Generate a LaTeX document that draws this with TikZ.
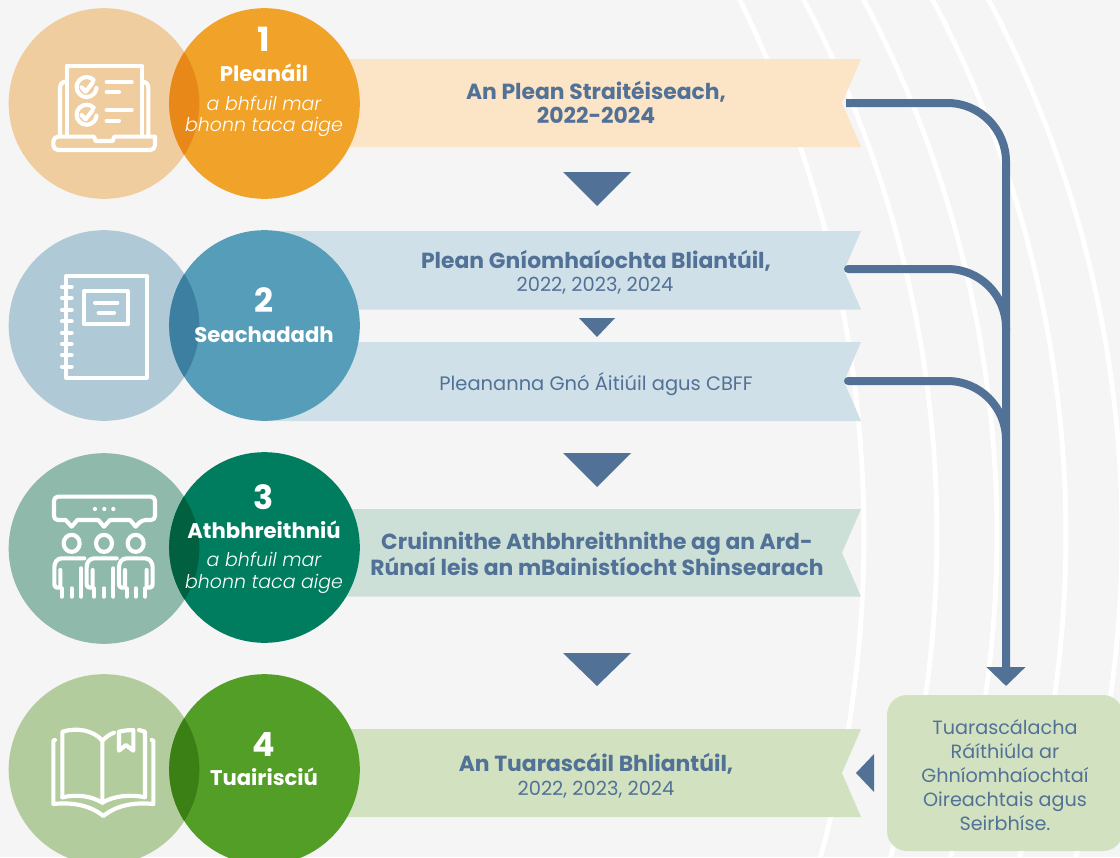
\documentclass[tikz,border=0pt]{standalone}
\usepackage{fontspec}
\setmainfont{Poppins}
\newfontfamily\lightit{Poppins Light Italic}
\usetikzlibrary{arrows.meta}
\definecolor{pagebg}{HTML}{F5F5F5}
\definecolor{ink}{HTML}{527196}
\definecolor{oa}{HTML}{F0CD9F}\definecolor{ob}{HTML}{F0A229}\definecolor{oc}{HTML}{E88819}\definecolor{od}{HTML}{FCE4C6}
\definecolor{ba}{HTML}{B0C9D6}\definecolor{bb}{HTML}{559DB8}\definecolor{bc}{HTML}{3D7FA0}\definecolor{bd}{HTML}{CFE0E8}
\definecolor{ga}{HTML}{8FB9AB}\definecolor{gb}{HTML}{007D5E}\definecolor{gc}{HTML}{006040}\definecolor{gd}{HTML}{CCE0D8}
\definecolor{la}{HTML}{B3CC9D}\definecolor{lb}{HTML}{529E27}\definecolor{lc}{HTML}{3A8015}\definecolor{ld}{HTML}{D2E2C0}
\tikzset{
  disc/.style={circle,minimum size=143pt,inner sep=0pt,outer sep=0pt},
  arcline/.style={draw=white,line width=3.6pt},
  conn/.style={draw=ink,line width=6pt,line cap=round},
  connarrow/.style={draw=ink,line width=6pt,-{Triangle[length=14.25pt,width=28.5pt]}},
  tri/.style={fill=ink},
  ic/.style={draw=white,line width=3.1pt,line cap=round,line join=round,x=0.25pt,y=-0.25pt},
  num/.style={text=white,font=\bfseries\fontsize{25}{25}\selectfont,inner sep=0pt},
  head/.style={text=white,font=\bfseries\fontsize{15.9}{18}\selectfont,inner sep=0pt},
  sub/.style={text=white,align=center,font=\lightit\fontsize{14.2}{16}\selectfont,inner sep=0pt},
  boldtxt/.style={text=ink,align=center,font=\bfseries\fontsize{16.4}{18}\selectfont,inner sep=0pt},
  regtxt/.style={text=ink,align=center,font=\fontsize{14.6}{18}\selectfont,inner sep=0pt},
  boxtxt/.style={draw=none,fill=ld,rounded corners=15pt,minimum width=177pt,minimum height=117pt,text=ink,align=center,font=\fontsize{14.4}{18}\selectfont,inner sep=0pt},
}
\newcommand{\pair}[5]{%
  \node[disc,fill=#3] (#1L) at (104,#2) {};
  \node[disc,fill=#4] (#1R) at (264.5,#2) {};
  \begin{scope}
    \clip (104,#2) circle[radius=71.5pt];
    \fill[#5] (264.5,#2) circle[radius=71.5pt];
  \end{scope}
}
\newcommand{\banner}[5]{% colour, left, top, bottom, notch x
  \fill[#1] (#2,#3) -- (861,#3) -- (#5,{(#3+#4)/2}) -- (861,#4) -- (#2,#4) -- cycle;
}
\begin{document}
\begin{tikzpicture}[x=0.75pt,y=-0.75pt]
\useasboundingbox (0,0) rectangle (1120,857);
\clip (0,0) rectangle (1120,857);
\fill[pagebg] (0,0) rectangle (1120,857);
% background arcs
\foreach \m/\r in {864/1216,937/1142,997/1142,1066/1142,1122/1142}{
  \draw[arcline] plot[domain=-32:32,samples=50] ({\m-\r+\r*cos(\x)},{535+\r*sin(\x)});
}
% banners
\banner{od}{300}{59}{147}{842}
\banner{bd}{260}{231}{309.5}{844}
\banner{bd}{260}{342}{421}{844}
\banner{gd}{300}{509}{596.5}{842}
\banner{ld}{300}{729}{817}{842}
% circles
\pair{a}{103.5}{oa}{ob}{oc}
\pair{b}{325.5}{ba}{bb}{bc}
\node[disc,fill=ga] (cL) at (104,548.5) {};
\node[disc,fill=gb] (cR) at (264.5,547.5) {};
\begin{scope}
  \clip (104,548.5) circle[radius=71.5pt];
  \fill[gc] (264.5,547.5) circle[radius=71.5pt];
\end{scope}
\pair{d}{769.5}{la}{lb}{lc}
% circle texts
\node[num] (n1) at (264,39.5) {1};
\node[head] (h1) at (264,72.5) {Pleanáil};
\node[sub] (s1) at (264,116.5) {a bhfuil mar\\bhonn taca aige};
\node[num] (n2) at (264,300.5) {2};
\node[head] (h2) at (264,335) {Seachadadh};
\node[num] (n3) at (264,497.5) {3};
\node[head] (h3) at (264,530) {Athbhreithniú};
\node[sub] (s3) at (264,573) {a bhfuil mar\\bhonn taca aige};
\node[num] (n4) at (264,744.5) {4};
\node[head] (h4) at (264,777) {Tuairisciú};
% banner texts
\node[boldtxt] (t1) at (596,102) {An Plean Straitéiseach,\\2022-2024};
\node[boldtxt] (t2) at (596,261) {Plean Gníomhaíochta Bliantúil,};
\node[regtxt] (t2b) at (595,286) {2022, 2023, 2024};
\node[regtxt] (t3) at (596,384) {Pleananna Gnó Áitiúil agus CBFF};
\node[boldtxt] (t4) at (597,554) {Cruinnithe Athbhreithnithe ag an Ard-\\Rúnaí leis an mBainistíocht Shinsearach};
\node[boldtxt] (t5) at (596,764) {An Tuarascáil Bhliantúil,};
\node[regtxt] (t5b) at (596,790) {2022, 2023, 2024};
% down triangles
\fill[tri] (563,172) -- (631,172) -- (597,206) -- cycle;
\fill[tri] (579,318) -- (615,318) -- (597,337) -- cycle;
\fill[tri] (563,453) -- (631,453) -- (597,487) -- cycle;
\fill[tri] (563,653) -- (631,653) -- (597,686) -- cycle;
\fill[tri] (856,773) -- (874,754) -- (874,792) -- cycle;
% report box
\node[boxtxt] (box) at (1005,773) {\rule{0pt}{14pt}Tuarascálacha\\Ráíthiúla ar\\Ghníomhaíochtaí\\Oireachtais agus\\Seirbhíse.};
% connectors
\coordinate (p1) at (846,103);
\coordinate (p2) at (848,269);
\coordinate (p3) at (848,381);
\coordinate (bus) at (1006,686);
\coordinate (m2) at (1006,330);
\coordinate (m3) at (1006,440);
\draw[connarrow,rounded corners=44pt] (p1) -| (bus);
\draw[conn,rounded corners=44pt] (p2) -| (m2);
\draw[conn,rounded corners=44pt] (p3) -| (m3);
% icon 1: laptop with checklist
\begin{scope}[shift={(45,55)},ic]
  \draw (65,240) -- (65,32) -- (290,32) -- (290,240);
  \draw (45,240) -- (45,97) .. controls (45,88) and (50,82) .. (58,80);
  \draw (310,240) -- (310,97) .. controls (310,88) and (305,82) .. (297,80);
  \draw (25,245) -- (147,245) -- (152,258) -- (203,258) -- (208,245) -- (330,245) [rounded corners=3.5pt] -- (330,285) -- (25,285) -- cycle;
  \foreach \yy in {97,180}{
    \draw (146,\yy-22) arc[start angle=45,end angle=355,radius=7.5pt];
    \draw (110,\yy) -- (122,\yy+13) -- (143,\yy-14);
  }
  \draw (185,82) -- (260,82);
  \draw (185,112) -- (222,112);
  \draw (185,165) -- (260,165);
  \draw (185,197) -- (222,197);
\end{scope}
% icon 2: notebook
\begin{scope}[shift={(0,225)},ic]
  \draw (198,153) rectangle (440,458);
  \foreach \yy in {186,220,255,289,323,357,391,425}{\draw (186,\yy) -- (215,\yy);}
  \draw (253,198) rectangle (384,298);
  \draw (285,233) -- (352,233);
  \draw (296,263) -- (342,263);
\end{scope}
% icon 3: people
\begin{scope}[shift={(45,490)},ic]
  \draw[rounded corners=3pt] (27,55) -- (27,20) -- (330,20) -- (330,90) -- (290,90) [sharp corners] -- (272,110) -- (255,90) -- (195,90) -- (177,110) -- (160,90) -- (97,90) -- (80,110) -- (62,90) [rounded corners=3pt] -- (27,90) -- cycle;
  \foreach \xx in {150,178,205}{\fill[white,draw=none] (\xx,57) circle[radius=1.6pt];}
  \foreach \xx in {80,177,272}{\draw (\xx,160) ellipse[x radius=6pt,y radius=6.4pt];}
  \foreach \dx in {0,97}{
    \draw (118+\dx,205) -- (50+\dx,205) .. controls (36+\dx,205) and (28+\dx,218) .. (28+\dx,232) -- (28+\dx,282) .. controls (28+\dx,292) and (36+\dx,295) .. (46+\dx,292) -- (46+\dx,240);
    \draw (50+\dx,295) -- (50+\dx,320);
    \draw (80+\dx,295) -- (80+\dx,320);
    \draw (108+\dx,235) -- (108+\dx,320);
  }
  \draw (222,282) -- (222,232) .. controls (222,218) and (230,205) .. (245,205) -- (300,205) .. controls (315,205) and (323,218) .. (323,232) -- (323,282) .. controls (323,292) and (315,295) .. (305,292) -- (305,240);
  \draw (222,282) .. controls (222,292) and (230,295) .. (240,292) -- (240,240);
  \draw (245,295) -- (245,320);
  \draw (272,295) -- (272,320);
  \draw (300,295) -- (300,320);
\end{scope}
% icon 4: book
\begin{scope}[shift={(45,720)},ic]
  \draw (30,60) -- (25,62) -- (25,252) .. controls (80,246) and (135,255) .. (175,288) .. controls (215,255) and (270,246) .. (325,252) -- (325,62) -- (320,60);
  \draw (52,232) -- (52,35) .. controls (95,22) and (145,30) .. (172,62) -- (172,248);
  \draw (52,232) .. controls (95,222) and (140,228) .. (172,248) .. controls (205,228) and (255,222) .. (300,232) -- (300,35) -- (282,30);
  \draw (172,62) .. controls (182,52) and (195,42) .. (207,38);
  \draw (222,35) -- (222,92) -- (243,75) -- (265,92) -- (265,30) .. controls (250,30) and (235,32) .. (222,35);
\end{scope}
\end{tikzpicture}
\end{document}
